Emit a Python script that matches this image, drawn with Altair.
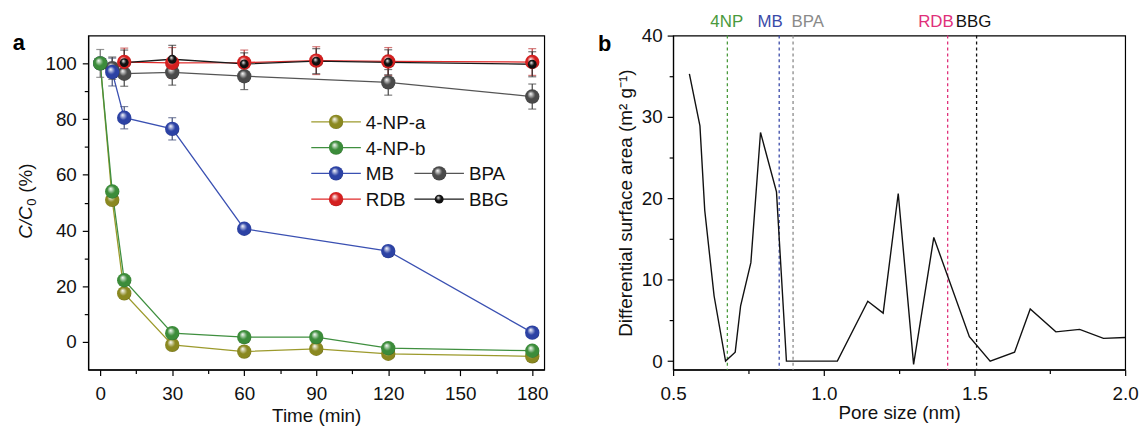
import altair as alt
import pandas as pd

FONT = "Liberation Sans"

# ---------------- panel a : data ----------------
series_names = ["4-NP-a", "4-NP-b", "MB", "BPA", "RDB", "BBG"]
ball_colors = ["#8a8820", "#3c8c3a", "#2c42a4", "#4a4a4a", "#d42020", "#111111"]
line_colors = ["#9c9a2c", "#3f8f3f", "#3a50b2", "#555555", "#e02a2a", "#1a1a1a"]
err_colors = ["#777777", "#6a6a6a", "#44507a", "#444444", "#c04040", "#333333"]

t_4npa = [0, 5, 10, 30, 60, 90, 120, 180]
v_4npa = [100, 51, 17.4, -1.1, -3.5, -2.5, -4.3, -5.2]
e_4npa = [0, 0, 0, 0, 0, 0, 0, 0]

t_4npb = [0, 5, 10, 30, 60, 90, 120, 180]
v_4npb = [100, 54, 22.1, 3.1, 1.7, 1.7, -2.3, -3.2]
e_4npb = [5, 0, 0, 0, 0, 0, 0, 0]

t_mb = [0, 5, 10, 30, 60, 120, 180]
v_mb = [100, 96.9, 80.5, 76.5, 40.6, 32.6, 3.3]
e_mb = [0, 5, 4, 4, 0, 0, 0]

t_bpa = [5, 10, 30, 60, 120, 180]
v_bpa = [98.3, 96.3, 96.8, 95.4, 93.2, 88.1]
e_bpa = [4, 4.5, 4.6, 4.8, 4.6, 4.5]

t_rdb = [10, 30, 60, 90, 120, 180]
v_rdb = [100.5, 100.2, 100.3, 101.0, 100.7, 100.5]
e_rdb = [5, 5.5, 4.5, 5, 5, 4.8]

t_bbg = [10, 30, 60, 90, 120, 180]
v_bbg = [100.3, 101.5, 99.8, 100.8, 100.4, 99.7]
e_bbg = [4.5, 5, 4, 4.5, 4.5, 4.5]

series_t = [t_4npa, t_4npb, t_mb, t_bpa, t_rdb, t_bbg]
series_v = [v_4npa, v_4npb, v_mb, v_bpa, v_rdb, v_bbg]
series_e = [e_4npa, e_4npb, e_mb, e_bpa, e_rdb, e_bbg]

# ---------------- panel b : data ----------------
pore_size = [0.554, 0.589, 0.605, 0.636, 0.674, 0.706, 0.724, 0.758, 0.790, 0.843,
             0.876, 1.045, 1.146, 1.197, 1.247, 1.298, 1.365, 1.483, 1.552, 1.633,
             1.685, 1.770, 1.849, 1.928, 2.000]
surface_area = [35.3, 28.9, 18.5, 8.0, 0.0, 1.1, 6.8, 12.1, 28.1, 20.8,
                0.0, 0.0, 7.35, 5.9, 20.6, -0.4, 15.2, 3.0, 0.0, 1.1,
                6.4, 3.6, 3.9, 2.8, 2.9]
marker_names = ["4NP", "MB", "BPA", "RDB", "BBG"]
marker_pos = [0.680, 0.852, 0.898, 1.411, 1.507]
marker_label_pos = [0.678, 0.822, 0.947, 1.372, 1.497]
marker_colors = ["#4a9a3c", "#3a4aa8", "#8a8a8a", "#e0307a", "#111111"]

# ---------------- styling / layout ----------------
W_A, H_A = 460, 337
W_B, H_B = 456, 337
BALL = 210
BALL_SMALL = 80
FS = 19
draw_order = [0, 3, 2, 4, 5, 1]

# legend layout (pixel offsets inside panel a)
legend_slots = {"4-NP-a": (0, 0), "4-NP-b": (0, 1), "MB": (0, 2), "BPA": (1, 2),
                "RDB": (0, 3), "BBG": (1, 3)}
legend_col_x = [225, 329]
legend_row_y = [87, 113, 139, 165]

# y title of panel a (pieces: italic C/C, subscript 0, "(%)")
title_pieces = ["C/C", "0", "(%)"]
title_styles = ["italic", "normal", "normal"]
title_sizes = [FS, 13, FS]
title_em = [1.722, 0.556, 1.555]  # approximate advance widths in em
title_gap_after = [0.5, 6, 0]
TITLE_BOTTOM = 205   # px from plot top, where the title starts (reads upward)
TITLE_BASE_X = -57   # baseline x offset from plot left edge


def ball(color):
    return alt.RadialGradient(
        gradient="radial",
        stops=[alt.GradientStop(color="#ffffff", offset=0),
               alt.GradientStop(color=color, offset=0.45),
               alt.GradientStop(color=color, offset=0.8),
               alt.GradientStop(color="#000000", offset=1.3)],
        x1=0.38, y1=0.3, r1=0.0, x2=0.5, y2=0.5, r2=0.62)


xs_a = alt.Scale(domain=[-5, 185], nice=False, zero=False)
ys_a = alt.Scale(domain=[-10, 110], nice=False, zero=False)

x_axis_a = alt.Axis(values=list(range(0, 181, 15)), title="Time (min)", labelFlush=False,
                    labelExpr="datum.value % 30 === 0 ? datum.label : ''",
                    tickSize={"condition": {"test": "datum.value % 30 === 0", "value": 6}, "value": 4},
                    labelPadding=9, titlePadding=3, grid=False)
y_axis_a = alt.Axis(values=list(range(0, 101, 10)), title=None, labelFlush=False,
                    labelExpr="datum.value % 20 === 0 ? datum.label : ''",
                    tickSize={"condition": {"test": "datum.value % 20 === 0", "value": 6}, "value": 4},
                    labelPadding=6, grid=False)


def XA(f):
    return alt.X(f, type="quantitative", scale=xs_a, axis=x_axis_a)


def YA(f):
    return alt.Y(f, type="quantitative", scale=ys_a, axis=y_axis_a)


layers_a = []
for i in range(6):
    df = pd.DataFrame({"t": series_t[i], "v": series_v[i]})
    layers_a.append(alt.Chart(df).mark_line(color=line_colors[i], strokeWidth=1.3).encode(
        x=XA("t"), y=YA("v")))

for i in range(6):
    df = pd.DataFrame({"t": series_t[i], "v": series_v[i], "e": series_e[i]})
    df = df[df["e"] > 0].copy()
    df["lo"] = df["v"] - df["e"]
    df["hi"] = df["v"] + df["e"]
    base = alt.Chart(df)
    layers_a.append(base.mark_rule(color=err_colors[i], strokeWidth=1.2).encode(
        x=XA("t"), y=YA("lo"), y2="hi:Q"))
    for f in ["lo", "hi"]:
        layers_a.append(base.mark_tick(color=err_colors[i], orient="horizontal", size=8, thickness=1.2).encode(
            x=XA("t"), y=YA(f)))

for i in draw_order:
    df = pd.DataFrame({"t": series_t[i], "v": series_v[i]})
    size = BALL_SMALL if series_names[i] == "BBG" else BALL
    layers_a.append(alt.Chart(df).mark_circle(fill=ball(ball_colors[i]), size=size, opacity=1).encode(
        x=XA("t"), y=YA("v")))

# legend
for i, name in enumerate(series_names):
    c, r = legend_slots[name]
    x0 = legend_col_x[c]
    y0 = legend_row_y[r]
    dummy = pd.DataFrame({"name": [name]})
    layers_a.append(alt.Chart(dummy).mark_rule(color=line_colors[i], strokeWidth=1.3).encode(
        x=alt.value(x0), x2=alt.value(x0 + 50), y=alt.value(y0)))
    size = BALL_SMALL if name == "BBG" else BALL
    layers_a.append(alt.Chart(dummy).mark_circle(fill=ball(ball_colors[i]), size=size, opacity=1).encode(
        x=alt.value(x0 + 25), y=alt.value(y0)))
    layers_a.append(alt.Chart(dummy).mark_text(align="left", baseline="middle", font=FONT, fontSize=FS,
                                               color="#111111").encode(
        x=alt.value(x0 + 55), y=alt.value(y0 + 1), text="name:N"))

# y-axis title built from pieces
ypos = TITLE_BOTTOM
for k, piece in enumerate(title_pieces):
    xoff = TITLE_BASE_X + (4 if k == 1 else 0)
    layers_a.append(alt.Chart(pd.DataFrame({"s": [piece]})).mark_text(
        font=FONT, fontSize=title_sizes[k], fontStyle=title_styles[k], angle=270,
        align="left", baseline="alphabetic", color="#111111").encode(
        x=alt.value(xoff), y=alt.value(ypos), text="s:N"))
    ypos -= title_em[k] * title_sizes[k] + title_gap_after[k]

layers_a.append(alt.Chart(pd.DataFrame({"l": ["a"]})).mark_text(
    font=FONT, fontSize=22, fontWeight="bold", align="center", baseline="middle", color="#000").encode(
    x=alt.value(-70), y=alt.value(8), text="l:N"))

panel_a = alt.layer(*layers_a).properties(width=W_A, height=H_A)

# ---------------- panel b ----------------
xs_b = alt.Scale(domain=[0.5, 2.0], nice=False, zero=False)
ys_b = alt.Scale(domain=[-1.05, 40], nice=False, zero=False)
x_axis_b = alt.Axis(values=[0.5, 0.75, 1.0, 1.25, 1.5, 1.75, 2.0], title="Pore size (nm)", format=".1f",
                    labelFlush=False,
                    labelExpr="datum.value % 0.5 === 0 ? datum.label : ''",
                    tickSize={"condition": {"test": "datum.value % 0.5 === 0", "value": 6}, "value": 4},
                    labelPadding=9, titlePadding=0, grid=False)
y_axis_b = alt.Axis(values=list(range(0, 41, 5)), title="Differential surface area (m² g⁻¹)",
                    labelFlush=False,
                    labelExpr="datum.value % 10 === 0 ? datum.label : ''",
                    tickSize={"condition": {"test": "datum.value % 10 === 0", "value": 6}, "value": 4},
                    labelPadding=5, titlePadding=6, grid=False)


def XB(f):
    return alt.X(f, type="quantitative", scale=xs_b, axis=x_axis_b)


def YB(f):
    return alt.Y(f, type="quantitative", scale=ys_b, axis=y_axis_b)


df_b = pd.DataFrame({"p": pore_size, "s": surface_area})
line_b = alt.Chart(df_b).mark_line(color="#111111", strokeWidth=1.4).encode(x=XB("p"), y=YB("s"))

df_m = pd.DataFrame({"name": marker_names, "pos": marker_pos, "lp": marker_label_pos, "col": marker_colors})
vlines = alt.Chart(df_m).mark_rule(strokeDash=[3, 3], strokeWidth=1.3).encode(
    x=XB("pos"), color=alt.Color("col:N", scale=None))
vlabels = alt.Chart(df_m).mark_text(font=FONT, fontSize=17, baseline="middle", align="center").encode(
    x=XB("lp"), y=alt.value(-14), text="name:N", color=alt.Color("col:N", scale=None))
lab_b = alt.Chart(pd.DataFrame({"l": ["b"]})).mark_text(
    font=FONT, fontSize=22, fontWeight="bold", align="center", baseline="middle", color="#000").encode(
    x=alt.value(-69), y=alt.value(9), text="l:N")

panel_b = alt.layer(vlines, line_b, vlabels, lab_b).properties(width=W_B, height=H_B)

chart = alt.hconcat(panel_a, panel_b, spacing=48).properties(
    padding={"left": 12, "top": 10, "right": 5, "bottom": 5},
    background="white",
).configure_view(stroke="#000000", strokeWidth=1.2).configure_axis(
    labelFont=FONT, titleFont=FONT, labelFontSize=FS, titleFontSize=FS,
    labelColor="#111111", titleColor="#111111", domainColor="#000000", tickColor="#000000",
    domainWidth=1.2, tickWidth=1.2, titleFontWeight="normal")

chart.save("out.html", embed_options={"renderer": "svg", "actions": False})
